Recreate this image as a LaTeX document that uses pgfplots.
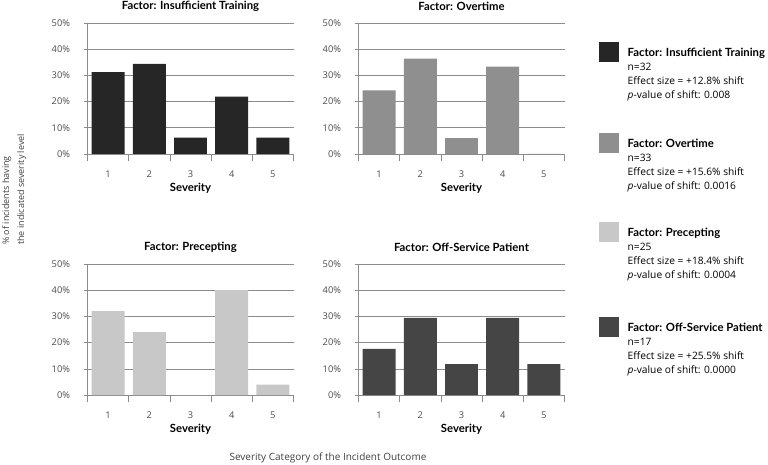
\documentclass[border=0pt]{standalone}
\usepackage{fontspec}
\setmainfont{Open Sans}
\newfontfamily\latofam{Lato}
\newcommand{\hb}{\latofam\bfseries}
\usepackage{pgfplots}
\pgfplotsset{compat=1.18}
\definecolor{cA}{HTML}{262626}
\definecolor{cB}{HTML}{8F8F8F}
\definecolor{cC}{HTML}{C8C8C8}
\definecolor{cD}{HTML}{454545}
\definecolor{gridc}{HTML}{8C8C8C}
\pgfplotsset{
  sevaxis/.style={
    scale only axis, width=206bp, height=131bp,
    ybar, bar width=0.8,
    xmin=0.5, xmax=5.5, ymin=0, ymax=50,
    axis lines*=left,
    axis line style={draw=gridc, line width=0.6bp},
    xtick={1,2,3,4,5},
    minor xtick={0.5,1.5,2.5,3.5,4.5,5.5},
    ytick={0,10,20,30,40,50},
    tick align=outside,
    major x tick style={draw=none},
    minor tick length=7bp, major tick length=4bp,
    tick style={draw=gridc, line width=0.6bp},
    ymajorgrids, grid style={draw=gridc, line width=0.6bp},
    /pgf/number format/assume math mode=true,
    yticklabel={\pgfmathprintnumber{\tick}\%},
    ticklabel style={font=\fontsize{9.3bp}{11bp}\selectfont, text=black!70},
    yticklabel style={xshift=-10bp},
    xticklabel style={yshift=-9bp},
    xlabel={Severity},
    xlabel style={at={(axis description cs:0.5,0)}, anchor=center, yshift=-34bp, font=\fontsize{11.3bp}{13bp}\selectfont\hb},
    title style={at={(axis description cs:0.5,1)}, anchor=center, yshift=10.5bp, font=\fontsize{11.3bp}{13bp}\selectfont\hb},
    legend style={draw=none, fill=none, inner sep=0pt, anchor=north west,
      column sep=8.5bp, cells={anchor=west, align=left},
      nodes={inner sep=0pt},
      font=\fontsize{10.2bp}{14bp}\selectfont},
  },
  sqlegend/.style={legend image code/.code={\fill[##1] (0bp,11.7bp) rectangle (20bp,31.7bp);}},
}
\begin{document}
\begin{tikzpicture}
\useasboundingbox (0bp,0bp) rectangle (768bp,465bp);
% top-left
\begin{axis}[sevaxis, at={(87.5bp,311bp)}, anchor=south west,
  title={Factor: Insufficient Training},
  legend style={at={(2.4830,0.8550)}}]
\addplot[fill=cA, draw=none, sqlegend] coordinates {(1,31.25) (2,34.375) (3,6.25) (4,21.875) (5,6.25)};
\addlegendentry{{\fontsize{11.3bp}{14bp}\selectfont\hb Factor: Insufficient Training}\\n=32\\Effect size = +12.8\% shift\\\textit{p}-value of shift: 0.008}
\end{axis}
% top-right
\begin{axis}[sevaxis, at={(358.5bp,311bp)}, anchor=south west,
  title={Factor: Overtime},
  legend style={at={(1.1675,0.1603)}}]
\addplot[fill=cB, draw=none, sqlegend] coordinates {(1,24.24) (2,36.36) (3,6.06) (4,33.33) (5,0)};
\addlegendentry{{\fontsize{11.3bp}{14bp}\selectfont\hb Factor: Overtime}\\n=33\\Effect size = +15.6\% shift\\\textit{p}-value of shift: 0.0016}
\end{axis}
% bottom-left
\begin{axis}[sevaxis, at={(87.5bp,70bp)}, anchor=south west,
  title={Factor: Precepting},
  legend style={at={(2.4830,1.3206)}}]
\addplot[fill=cC, draw=none, sqlegend] coordinates {(1,32) (2,24) (3,0) (4,40) (5,4)};
\addlegendentry{{\fontsize{11.3bp}{14bp}\selectfont\hb Factor: Precepting}\\n=25\\Effect size = +18.4\% shift\\\textit{p}-value of shift: 0.0004}
\end{axis}
% bottom-right
\begin{axis}[sevaxis, at={(358.5bp,70bp)}, anchor=south west,
  title={Factor: Off-Service Patient},
  legend style={at={(1.1675,0.5954)}}]
\addplot[fill=cD, draw=none, sqlegend] coordinates {(1,17.65) (2,29.41) (3,11.76) (4,29.41) (5,11.76)};
\addlegendentry{{\fontsize{11.3bp}{14bp}\selectfont\hb Factor: Off-Service Patient}\\n=17\\Effect size = +25.5\% shift\\\textit{p}-value of shift: 0.0000}
\end{axis}
\node[rotate=90, anchor=north west, align=left, inner sep=0pt, text=black!75,
  font=\fontsize{9bp}{15bp}\selectfont] at (2bp,220bp)
  {\% of incidents having\\the indicated severity level};
\node[anchor=center, inner sep=0pt, text=black!75, font=\fontsize{10bp}{11bp}\selectfont]
  at (328bp,7bp) {Severity Category of the Incident Outcome};
\end{tikzpicture}
\end{document}
